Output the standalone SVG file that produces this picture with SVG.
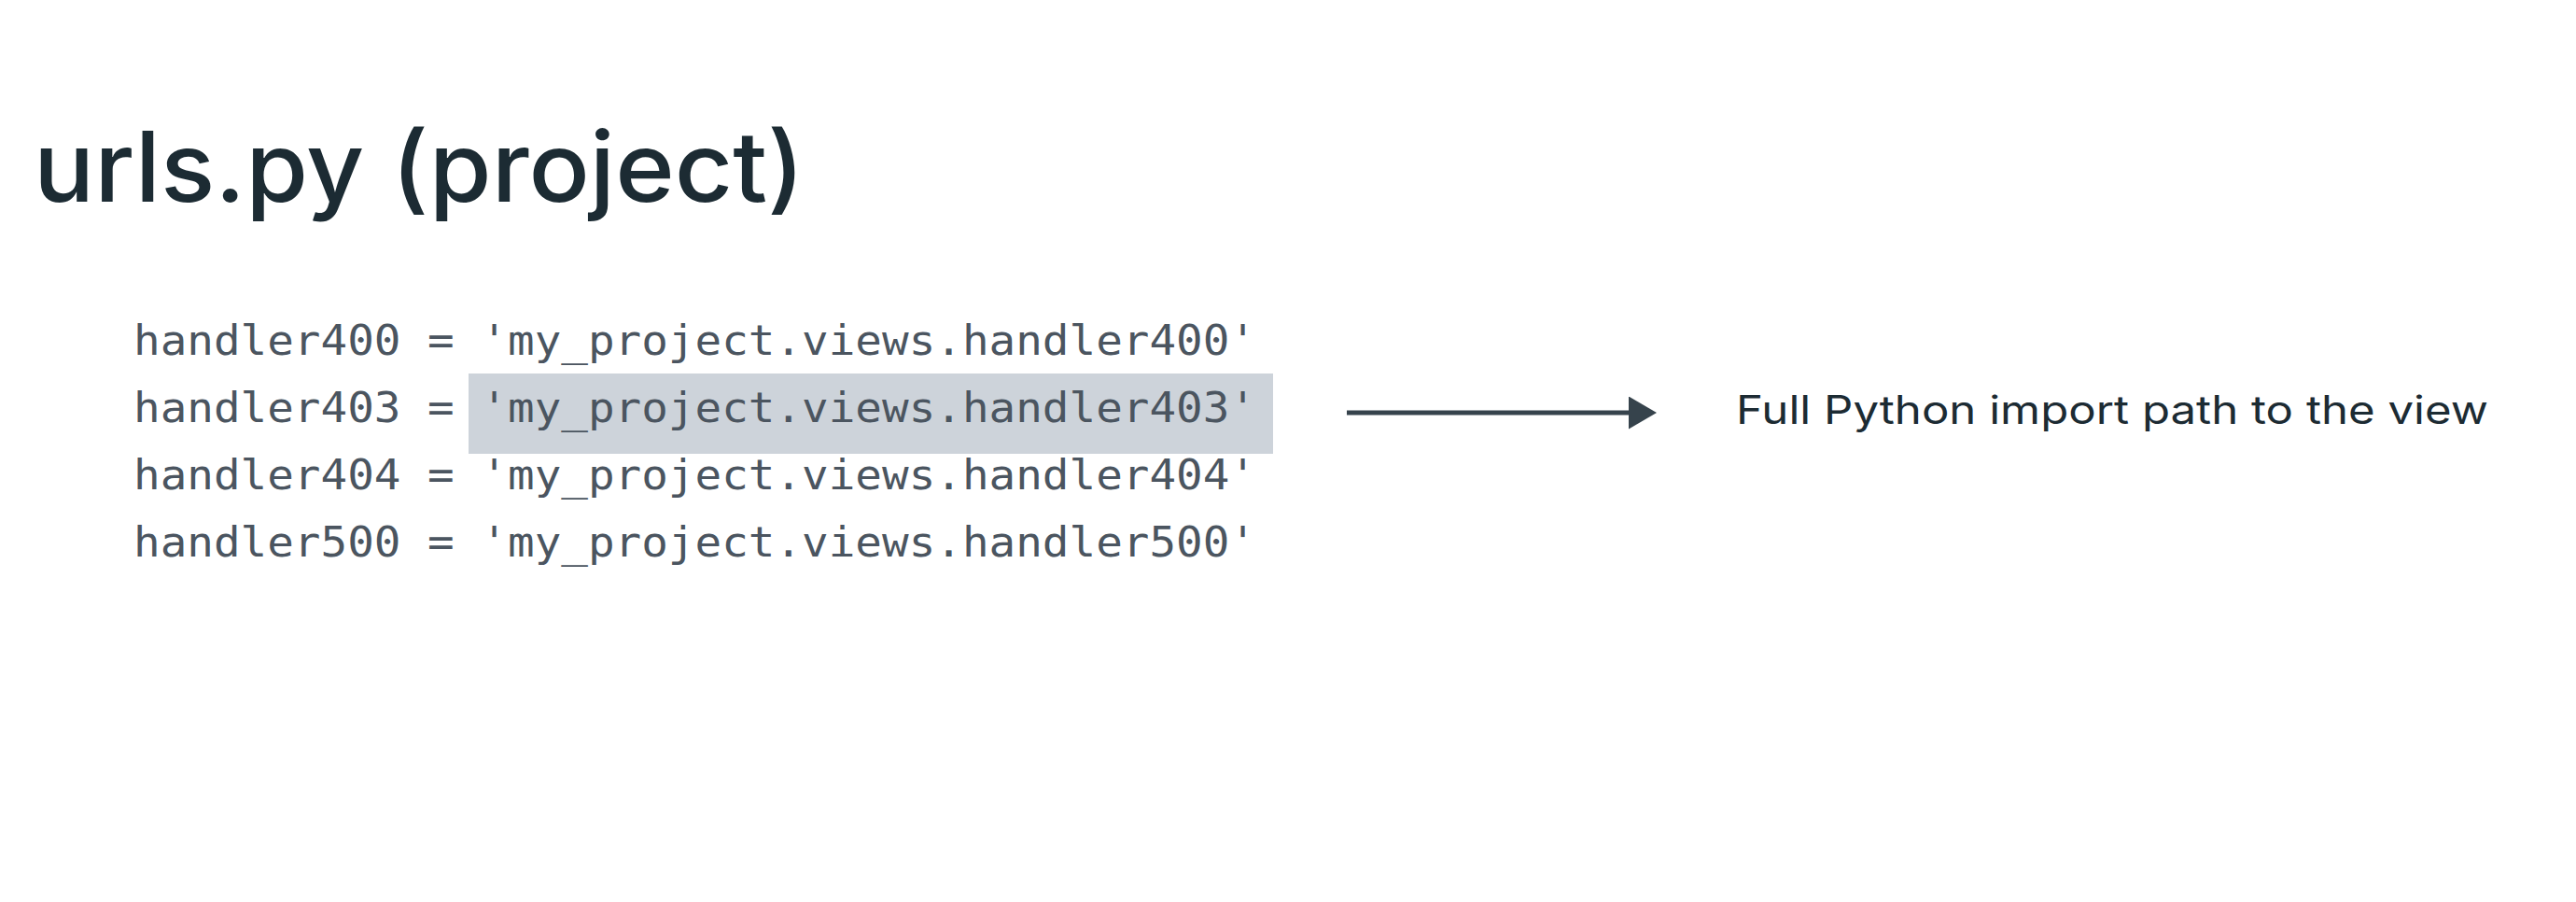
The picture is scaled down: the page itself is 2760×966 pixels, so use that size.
<svg xmlns="http://www.w3.org/2000/svg" width="2760" height="966" viewBox="0 0 2760 966">
<defs>
<style>
.title{font-family:Inter,"Open Sans","Liberation Sans",sans-serif;font-size:104px;font-weight:500;fill:#1c2b33}
.code{font-family:"DejaVu Sans Mono","Liberation Mono",monospace;font-size:45px;fill:#4b5560}
.label{font-family:Inter,"Open Sans","Liberation Sans",sans-serif;font-size:42px;fill:#1c2b33}
.conn{stroke:#36434c;stroke-width:5;fill:none}
</style>
<marker id="ah" markerWidth="7" markerHeight="7" refX="5" refY="3.5" orient="auto" markerUnits="strokeWidth">
<path d="M0,0 L6,3.5 L0,7 Z" fill="#36434c"/>
</marker>
</defs>
<rect width="2760" height="966" fill="#ffffff"/>
<g id="title">
<text class="title" x="36" y="216" textLength="826" lengthAdjust="spacingAndGlyphs">urls.py (project)</text>
</g>
<g id="code">
<rect id="highlight" x="502" y="400" width="862" height="86" fill="#cdd3da"/>
<text class="code" x="143" y="380" textLength="1203" lengthAdjust="spacingAndGlyphs">handler400 = 'my_project.views.handler400'</text>
<text class="code" x="143" y="452" textLength="1203" lengthAdjust="spacingAndGlyphs">handler403 = 'my_project.views.handler403'</text>
<text class="code" x="143" y="524" textLength="1203" lengthAdjust="spacingAndGlyphs">handler404 = 'my_project.views.handler404'</text>
<text class="code" x="143" y="596" textLength="1203" lengthAdjust="spacingAndGlyphs">handler500 = 'my_project.views.handler500'</text>
</g>
<g id="connectors">
<line class="conn" x1="1443" y1="442" x2="1770" y2="442" marker-end="url(#ah)"/>
</g>
<g id="note">
<text class="label" x="1860" y="454" textLength="806" lengthAdjust="spacingAndGlyphs">Full Python import path to the view</text>
</g>
</svg>
